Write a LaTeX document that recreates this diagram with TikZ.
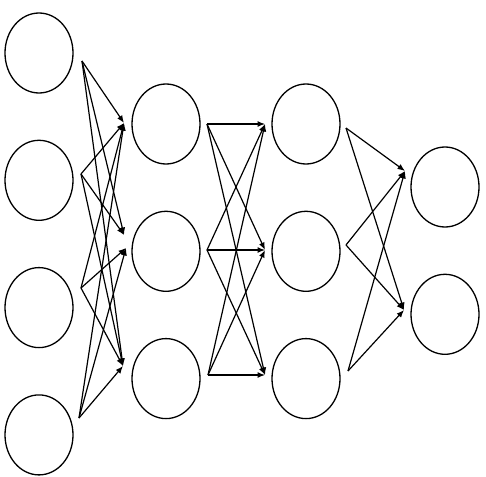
\documentclass[tikz,border=0pt]{standalone}
\usetikzlibrary{positioning,arrows.meta,shapes.geometric}

\begin{document}
\begin{tikzpicture}[
  x=1pt, y=-1pt,
  >={Latex[length=7.5pt,width=6pt]},
  node distance=46pt,
  neuron/.style={draw, ellipse, line width=1.3pt, minimum width=68pt, minimum height=80pt, inner sep=0pt},
  conn/.style={->, line width=1.2pt},
]
\useasboundingbox (0,0) rectangle (486,476);

% Input layer
\node[neuron] at (39,53) (i1) {};
\node[neuron, below=of i1] (i2) {};
\node[neuron, below=of i2] (i3) {};
\node[neuron, below=of i3] (i4) {};

% First hidden layer
\node[neuron] at (166,124) (h1) {};
\node[neuron, below=of h1] (h2) {};
\node[neuron, below=of h2] (h3) {};

% Second hidden layer
\node[neuron] at (306,124) (g1) {};
\node[neuron, below=of g1] (g2) {};
\node[neuron, below=of g2] (g3) {};

% Output layer
\node[neuron] at (445,187) (o1) {};
\node[neuron, below=of o1] (o2) {};

% Connector end points
\coordinate (i1o) at (82,61);
\coordinate (i2o) at (81,174);
\coordinate (i3o) at (81,288);
\coordinate (i4o) at (79,418);
\coordinate (h1i) at (124,123);
\coordinate (h2ia) at (124,235);
\coordinate (h2ib) at (126,248);
\coordinate (h3i) at (123,366);
\coordinate (h1o) at (207,124);
\coordinate (h2o) at (207,250);
\coordinate (h3o) at (208,375);
\coordinate (g1i) at (265,124);
\coordinate (g2i) at (265,250);
\coordinate (g3i) at (265,375);
\coordinate (g1o) at (346,128);
\coordinate (g2o) at (346,245);
\coordinate (g3o) at (348,371);
\coordinate (o1i) at (405,171);
\coordinate (o2i) at (404,310);

% Input -> first hidden
\draw[conn] (i1o) -- (h1i);
\draw[conn] (i1o) -- (h2ia);
\draw[conn] (i1o) -- (h3i);
\draw[conn] (i2o) -- (h1i);
\draw[conn] (i2o) -- (h2ia);
\draw[conn] (i2o) -- (h3i);
\draw[conn] (i3o) -- (h1i);
\draw[conn] (i3o) -- (h2ib);
\draw[conn] (i3o) -- (h3i);
\draw[conn] (i4o) -- (h1i);
\draw[conn] (i4o) -- (h2ib);
\draw[conn] (i4o) -- (h3i);

% First hidden -> second hidden
\draw[conn] (h1o) -- (g1i);
\draw[conn] (h1o) -- (g2i);
\draw[conn] (h1o) -- (g3i);
\draw[conn] (h2o) -- (g1i);
\draw[conn] (h2o) -- (g2i);
\draw[conn] (h2o) -- (g3i);
\draw[conn] (h3o) -- (g1i);
\draw[conn] (h3o) -- (g2i);
\draw[conn] (h3o) -- (g3i);

% Second hidden -> output
\draw[conn] (g1o) -- (o1i);
\draw[conn] (g1o) -- (o2i);
\draw[conn] (g2o) -- (o1i);
\draw[conn] (g2o) -- (o2i);
\draw[conn] (g3o) -- (o1i);
\draw[conn] (g3o) -- (o2i);

\end{tikzpicture}
\end{document}
